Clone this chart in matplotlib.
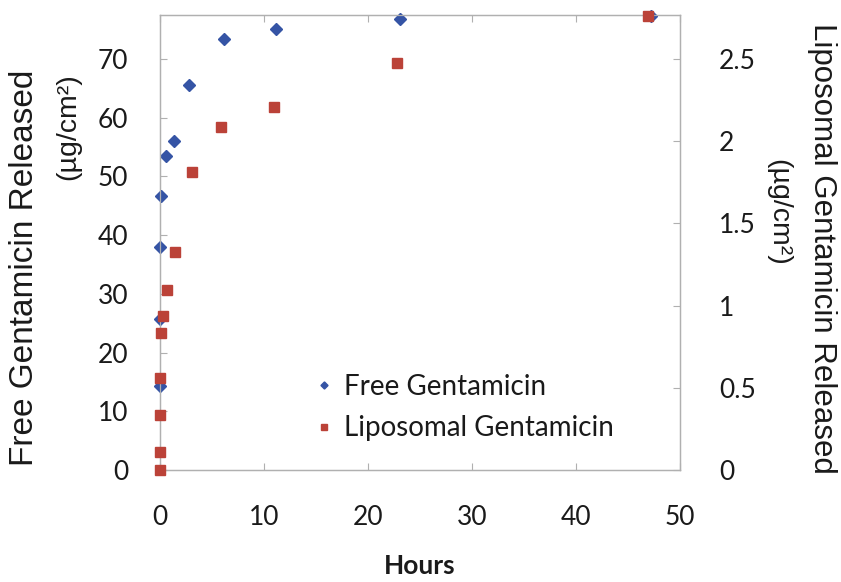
import matplotlib
matplotlib.use("Agg")
import matplotlib.pyplot as plt

# release data, hours vs. cumulative amount released
free_hours = [0.0, 0.0, 0.0, 0.1, 0.55, 1.35, 2.8, 6.15, 11.15, 23.1, 47.2]
free_vals = [14.3, 25.7, 38.0, 46.7, 53.5, 56.1, 65.6, 73.4, 75.2, 76.9, 77.4]

lipo_hours = [0.0, 0.0, 0.0, 0.0, 0.07, 0.26, 0.64, 1.42, 3.1, 5.9, 10.96, 22.75, 46.9]
lipo_vals = [0.0, 0.108, 0.335, 0.558, 0.835, 0.937, 1.095, 1.328, 1.813, 2.088, 2.21, 2.474, 2.763]

x_ticks = [0, 10, 20, 30, 40, 50]
left_ticks = [0, 10, 20, 30, 40, 50, 60, 70]
right_ticks = [0, 0.5, 1, 1.5, 2, 2.5]
right_labels = ["0", "0.5", "1", "1.5", "2", "2.5"]

blue = "#3554a5"
red = "#bb4238"
spine_col = "#b0b0b0"
txt = "#1a1a1a"
num_font = "Lato"
lab_font = "Liberation Sans"

fig = plt.figure(figsize=(8.41, 5.82), dpi=100)
ax = fig.add_axes([160 / 841, 1 - 470 / 582, 520 / 841, 455 / 582])
ax2 = ax.twinx()

ax.plot(free_hours, free_vals, linestyle="none", marker="D", ms=6,
        color=blue, mec=blue, label="Free Gentamicin", clip_on=False, zorder=3)
ax2.plot(lipo_hours, lipo_vals, linestyle="none", marker="s", ms=7.5,
         color=red, mec=red, label="Liposomal Gentamicin", clip_on=False, zorder=3)

ax.set_xlim(0, 50)
ax.set_ylim(0, 77.5)
ax2.set_ylim(0, 2.768)

ax.set_xticks(x_ticks)
ax.set_yticks(left_ticks)
ax2.set_yticks(right_ticks)
ax2.set_yticklabels(right_labels)

for a in (ax, ax2):
    for s in a.spines.values():
        s.set_color(spine_col)
        s.set_linewidth(0.9)

ax.tick_params(axis="x", direction="in", length=5, color=spine_col,
               top=True, pad=25, labelsize=19, labelcolor=txt)
ax.tick_params(axis="y", direction="in", length=5, color=spine_col,
               pad=23, labelsize=19, labelcolor=txt)
ax2.tick_params(axis="y", direction="in", length=5, color=spine_col,
                pad=28, labelsize=19, labelcolor=txt)
for lbl in ax.get_xticklabels() + ax.get_yticklabels() + ax2.get_yticklabels():
    lbl.set_fontfamily(num_font)

# axis titles
fig.text(420 / 841, 1 - 566 / 582, "Hours", ha="center", va="center",
         fontsize=19, fontweight="bold", family=num_font, color=txt)
fig.text(25 / 841, 1 - 268 / 582, "Free Gentamicin Released", rotation=90,
         ha="center", va="center", fontsize=24, family=lab_font, color=txt)
fig.text(68 / 841, 1 - 127 / 582, "(µg/cm²)", rotation=90,
         ha="center", va="center", fontsize=20.5, family=lab_font, color=txt)
fig.text(822 / 841, 1 - 248 / 582, "Liposomal Gentamicin Released", rotation=-90,
         ha="center", va="center", fontsize=22.5, family=lab_font, color=txt)
fig.text(778 / 841, 1 - 212 / 582, "(µg/cm²)", rotation=-90,
         ha="center", va="center", fontsize=20.5, family=lab_font, color=txt)

h1, l1 = ax.get_legend_handles_labels()
h2, l2 = ax2.get_legend_handles_labels()
leg = ax2.legend(h1 + h2, l1 + l2, loc="upper left",
                 bbox_to_anchor=(291 / 841, 1 - 349 / 582), bbox_transform=fig.transFigure,
                 frameon=False, markerscale=0.6, handlelength=0.6, handletextpad=0.4,
                 labelspacing=0.55, prop={"family": num_font, "size": 20})
for t in leg.get_texts():
    t.set_color(txt)

fig.savefig("out.png", dpi=100)
